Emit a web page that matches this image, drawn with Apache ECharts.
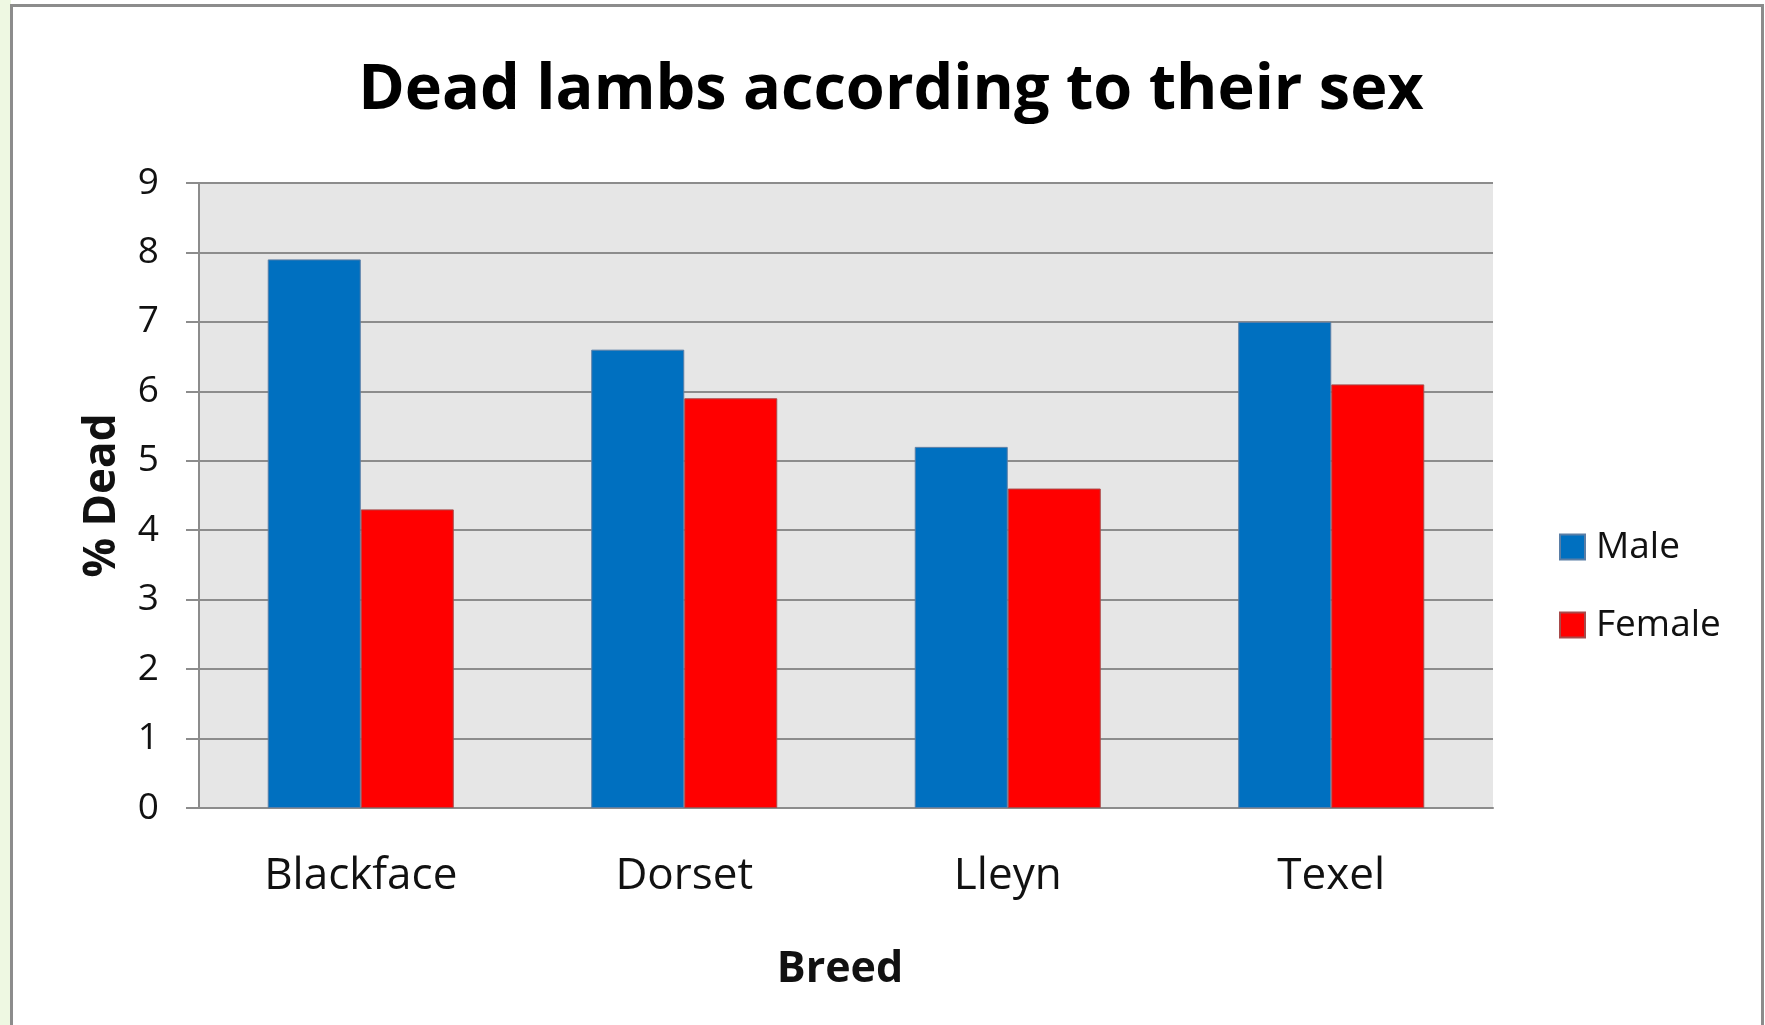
<!DOCTYPE html>
<html>
<head>
<meta charset="utf-8">
<script src="https://cdn.jsdelivr.net/npm/echarts@6/dist/echarts.min.js"></script>
<style>
  html, body { margin: 0; padding: 0; width: 1765px; height: 1025px; overflow: hidden; background: #ffffff; }
  #strip { position: absolute; left: 0; top: 0; width: 11px; height: 1025px; background: #eef8e2; }
  #frame { position: absolute; left: 10px; top: 4px; width: 1748px; height: 1040px; border: 3px solid #8c8c8c; background: #ffffff; }
  #chart { position: absolute; left: 0; top: 0; width: 1765px; height: 1025px; }
</style>
</head>
<body>
<div id="strip"></div>
<div id="frame"></div>
<div id="chart"></div>
<script>
const titleText = 'Dead lambs according to their sex';
const categories = ['Blackface', 'Dorset', 'Lleyn', 'Texel'];
const seriesNames = ['Male', 'Female'];
const maleValues = [7.9, 6.6, 5.2, 7.0];
const femaleValues = [4.3, 5.9, 4.6, 6.1];
const yTicks = [0, 1, 2, 3, 4, 5, 6, 7, 8, 9];
const xAxisName = 'Breed';
const yAxisName = '% Dead';

const FONT = '"Open Sans", "Noto Sans", sans-serif';
const chart = echarts.init(document.getElementById('chart'), null, { renderer: 'canvas' });
chart.setOption({
  backgroundColor: 'transparent',
  animation: false,
  title: {
    text: titleText,
    left: 886, top: 55, textAlign: 'center',
    textStyle: { fontFamily: FONT, fontWeight: 'bold', fontSize: 63, color: '#000' }
  },
  legend: {
    orient: 'vertical',
    left: 1559, top: 528, padding: 0,
    itemWidth: 25, itemHeight: 25, itemGap: 40,
    icon: 'rect',
    data: seriesNames,
    textStyle: { fontFamily: FONT, fontSize: 37, lineHeight: 38, color: '#111', padding: [0, 0, 0, 6] }
  },
  grid: {
    left: 199, top: 183, right: 272, bottom: 217,
    show: true, backgroundColor: '#e6e6e6', borderWidth: 0
  },
  xAxis: {
    type: 'category',
    data: categories,
    name: xAxisName,
    nameLocation: 'middle',
    nameGap: 140,
    nameTextStyle: { fontFamily: FONT, fontWeight: 'bold', fontSize: 43, color: '#111', padding: [0, 12, 0, 0] },
    axisLine: { show: true, lineStyle: { color: '#8c8c8c', width: 2 } },
    axisTick: { show: false },
    axisLabel: { fontFamily: FONT, fontSize: 44, color: '#111', margin: 46 },
    splitLine: { show: false }
  },
  yAxis: {
    type: 'value',
    min: yTicks[0], max: yTicks[yTicks.length - 1], interval: 1,
    name: yAxisName,
    nameLocation: 'middle',
    nameRotate: 90,
    nameGap: 75,
    nameTextStyle: { fontFamily: FONT, fontWeight: 'bold', fontSize: 44, color: '#111' },
    axisLine: { show: true, lineStyle: { color: '#8c8c8c', width: 2 } },
    axisTick: { show: true, length: 13, lineStyle: { color: '#8c8c8c', width: 2 } },
    axisLabel: { fontFamily: FONT, fontSize: 37, color: '#111', margin: 40 },
    splitLine: { show: true, lineStyle: { color: '#8c8c8c', width: 2 } }
  },
  series: [
    {
      name: seriesNames[0], type: 'bar', data: maleValues,
      barGap: '0%', barCategoryGap: '42.5%',
      itemStyle: { color: '#0070c0', borderColor: '#5a7ea6', borderWidth: 1 }
    },
    {
      name: seriesNames[1], type: 'bar', data: femaleValues,
      barGap: '0%', barCategoryGap: '42.5%',
      itemStyle: { color: '#ff0000', borderColor: '#a84a4a', borderWidth: 1 }
    }
  ]
});
</script>
</body>
</html>
